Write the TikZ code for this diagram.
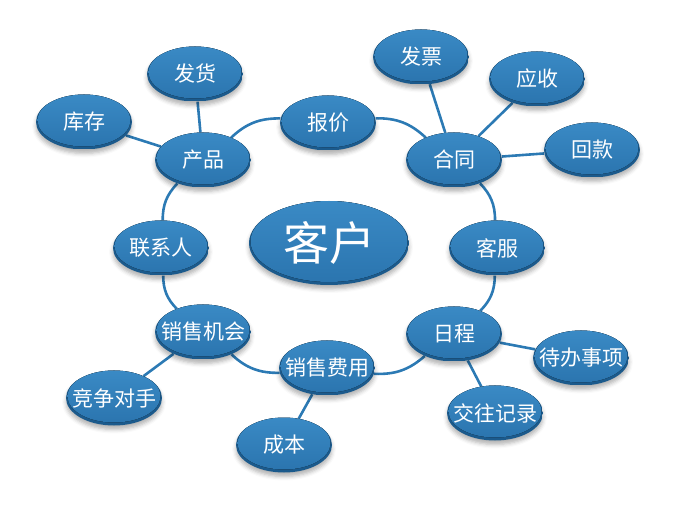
\documentclass[tikz,border=0pt]{standalone}
\usepackage{fontspec}
\newfontfamily\cjk{Noto Sans CJK SC}
\usetikzlibrary{shapes.geometric,shadows.blur,calc,backgrounds}
\definecolor{bubtop}{HTML}{3A8AC5}
\definecolor{bubbot}{HTML}{2B75AF}
\definecolor{bubrim}{HTML}{1B5A8C}
\definecolor{linec}{HTML}{2C7AB4}
\newcommand\ctrtext[1]{\makebox[0pt][c]{#1}}
\begin{document}
\begin{tikzpicture}[x=1pt,y=-1pt,
  bub/.style={ellipse, minimum width=96pt, minimum height=55pt, inner sep=0pt,
    text=white, font=\cjk\fontsize{21}{24}\selectfont,
    blur shadow={shadow xshift=0pt, shadow yshift=-4pt, shadow blur radius=4pt, shadow opacity=30},
    path picture={
      \fill[bubrim] (path picture bounding box.south west) rectangle (path picture bounding box.north east);
      \fill[top color=bubtop, bottom color=bubbot]
        let \p1=(path picture bounding box.south west), \p2=(path picture bounding box.north east) in
        ($(\p1)!0.5!(\p2)+(0,1.8pt)$) ellipse [x radius={0.5*\x2-0.5*\x1-1.5pt}, y radius={0.5*\y2-0.5*\y1-1.2pt}];
    }},
  bigbub/.style={bub, minimum width=160pt, minimum height=84pt, font=\cjk\fontsize{46}{50}\selectfont},
  link/.style={draw=linec, line width=2.6pt}]
\useasboundingbox (0,0) rectangle (680,510);
\node[bigbub] (kehu) at (329,243) {\ctrtext{客户}};
\node[bub] (fahuo) at (195,74) {\ctrtext{发货}};
\node[bub] (kucun) at (84,122) {\ctrtext{库存}};
\node[bub] (chanpin) at (203,160) {\ctrtext{产品}};
\node[bub] (baojia) at (328,123) {\ctrtext{报价}};
\node[bub] (fapiao) at (421,57) {\ctrtext{发票}};
\node[bub] (yingshou) at (537,79) {\ctrtext{应收}};
\node[bub] (hetong) at (454,160) {\ctrtext{合同}};
\node[bub] (huikuan) at (592,150) {\ctrtext{回款}};
\node[bub] (kefu) at (497,248) {\ctrtext{客服}};
\node[bub] (lianxiren) at (161,248) {\ctrtext{联系人}};
\node[bub] (richeng) at (454,334) {\ctrtext{日程}};
\node[bub] (daiban) at (581,358) {\ctrtext{待办事项}};
\node[bub] (jiaowang) at (495,413) {\ctrtext{交往记录}};
\node[bub] (xsjh) at (203,332) {\ctrtext{销售机会}};
\node[bub] (xsfy) at (327,368) {\ctrtext{销售费用}};
\node[bub] (jingzheng) at (114,398) {\ctrtext{竞争对手}};
\node[bub] (chengben) at (284,445) {\ctrtext{成本}};
\begin{scope}[on background layer]
  \draw[link] (chanpin) to[bend left=22] (baojia);
  \draw[link] (baojia) to[bend left=22] (hetong);
  \draw[link] (hetong) to[bend left=22] (kefu);
  \draw[link] (kefu) to[bend left=22] (richeng);
  \draw[link] (richeng) to[bend left=22] (xsfy);
  \draw[link] (xsfy) to[bend left=22] (xsjh);
  \draw[link] (xsjh) to[bend left=22] (lianxiren);
  \draw[link] (lianxiren) to[bend left=22] (chanpin);
  \draw[link] (chanpin) -- (fahuo);
  \draw[link] (chanpin) -- (kucun);
  \draw[link] (hetong) -- (fapiao);
  \draw[link] (hetong) -- (yingshou);
  \draw[link] (hetong) -- (huikuan);
  \draw[link] (richeng) -- (daiban);
  \draw[link] (richeng) -- (jiaowang);
  \draw[link] (xsfy) -- (chengben);
  \draw[link] (xsjh) -- (jingzheng);
\end{scope}
\end{tikzpicture}
\end{document}
